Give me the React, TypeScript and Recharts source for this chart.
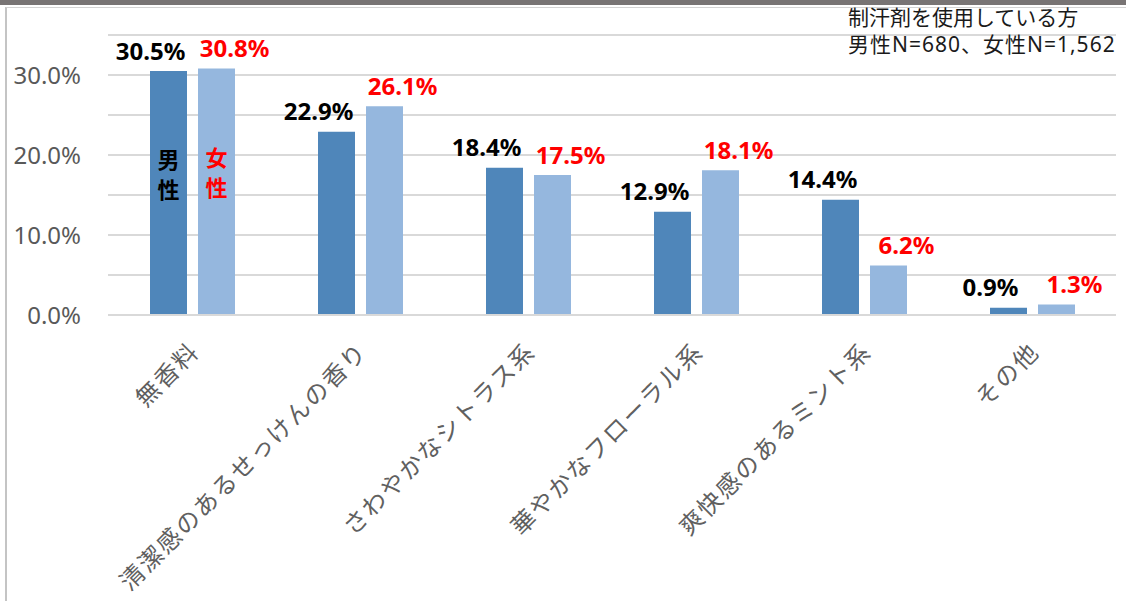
import React from 'react';
import { BarChart, Bar, XAxis, YAxis, CartesianGrid, LabelList } from 'recharts';

const categories = [
  '無香料',
  '清潔感のあるせっけんの香り',
  'さわやかなシトラス系',
  '華やかなフローラル系',
  '爽快感のあるミント系',
  'その他',
];
const maleValues = [30.5, 22.9, 18.4, 12.9, 14.4, 0.9];
const femaleValues = [30.8, 26.1, 17.5, 18.1, 6.2, 1.3];
const yTicks = [0, 5, 10, 15, 20, 25, 30, 35];
const seriesNames = ['男性', '女性'];
const noteLines = ['制汗剤を使用している方', '男性N=680、女性N=1,562'];

const data = categories.map((c, i) => ({ category: c, male: maleValues[i], female: femaleValues[i] }));

const JP = '"Noto Sans CJK JP", "Noto Sans", sans-serif';
const LATIN_JP = '"Noto Sans", "Noto Sans CJK JP", sans-serif';

const XTick = (props: any) => {
  const { x, y, payload } = props;
  const ax = x + 9;
  const ay = y + 30;
  return (
    <text
      x={ax}
      y={ay}
      transform={`rotate(-45, ${ax}, ${ay})`}
      textAnchor="end"
      fill="#606060"
      fontSize={24}
      letterSpacing={2}
      fontFamily={JP}
    >
      {payload.value}
    </text>
  );
};

const makeLabel = (color: string, dx: number, legend: string) => (props: any) => {
  const { x, y, width, value, index } = props;
  const cx = Number(x) + Number(width) / 2;
  const top = Number(y);
  return (
    <g>
      <text
        x={cx + dx}
        y={top - 21}
        textAnchor="middle"
        dominantBaseline="central"
        fill={color}
        fontWeight="bold"
        fontSize={24}
        fontFamily='"Noto Sans", sans-serif'
      >
        {`${Number(value).toFixed(1)}%`}
      </text>
      {index === 0 &&
        legend.split('').map((ch, k) => (
          <text
            key={k}
            x={cx}
            y={top + 87 + k * 30}
            textAnchor="middle"
            dominantBaseline="central"
            fill={color}
            fontWeight="bold"
            fontSize={22}
            fontFamily={JP}
          >
            {ch}
          </text>
        ))}
    </g>
  );
};

export default function App() {
  return (
    <div
      style={{
        position: 'fixed',
        left: 0,
        top: 0,
        width: 1126,
        height: 601,
        background: '#fff',
        overflow: 'hidden',
      }}
    >
      <div style={{ position: 'absolute', left: 0, top: 0, width: 1126, height: 5, background: '#787474' }} />
      <div
        style={{
          position: 'absolute',
          left: 5,
          top: 7,
          width: 1300,
          height: 800,
          borderLeft: '2px solid #c4c4c4',
          borderTop: '1px solid #d4d4d4',
        }}
      />
      <div style={{ position: 'absolute', left: 0, top: 0 }}>
        <BarChart
          width={1126}
          height={601}
          data={data}
          margin={{ top: 35, right: 10, left: 0, bottom: 0 }}
          barSize={37}
          barGap={11}
        >
          <CartesianGrid vertical={false} stroke="#d9d9d9" strokeWidth={2} />
          <XAxis
            dataKey="category"
            height={286}
            interval={0}
            tickLine={false}
            axisLine={{ stroke: '#d9d9d9', strokeWidth: 2 }}
            tick={<XTick />}
          />
          <YAxis
            width={108}
            domain={[0, 35]}
            ticks={yTicks}
            axisLine={false}
            tickLine={false}
            tickSize={0}
            tickMargin={27}
            tickFormatter={(v: number) => (v % 10 === 0 ? `${v.toFixed(1)}%` : '')}
            tick={{ fill: '#595959', fontSize: 24, fontFamily: '"Noto Sans", sans-serif' }}
          />
          <Bar dataKey="male" name={seriesNames[0]} fill="#4F86BA" isAnimationActive={false}>
            <LabelList dataKey="male" content={makeLabel('#000000', -18, seriesNames[0])} />
          </Bar>
          <Bar dataKey="female" name={seriesNames[1]} fill="#95B7DE" isAnimationActive={false}>
            <LabelList dataKey="female" content={makeLabel('#FF0000', 18, seriesNames[1])} />
          </Bar>
        </BarChart>
      </div>
      <div
        style={{
          position: 'absolute',
          left: 848,
          top: 4,
          fontSize: 21,
          lineHeight: '27px',
          fontFamily: LATIN_JP,
          color: '#1a1a1a',
          whiteSpace: 'nowrap',
        }}
      >
        {noteLines.map((l, i) => (
          <div key={i} style={{ letterSpacing: i === 1 ? 1 : 0 }}>
            {l}
          </div>
        ))}
      </div>
    </div>
  );
}
